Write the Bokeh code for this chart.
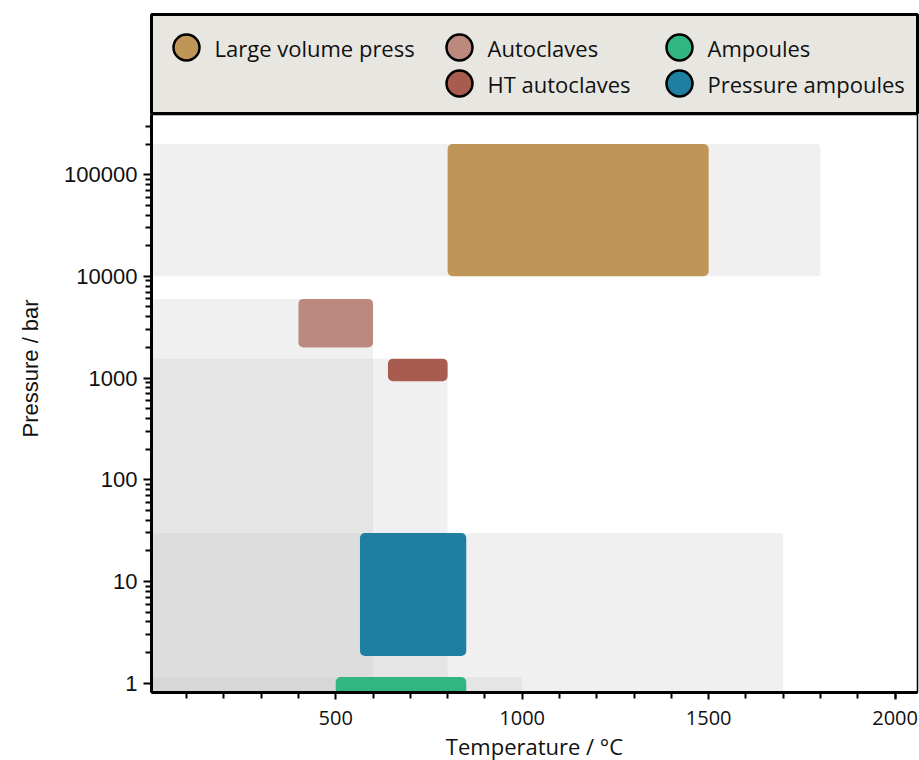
from bokeh.plotting import figure
from bokeh.models import Range1d, FixedTicker, Title, ColumnDataSource, NumeralTickFormatter
from bokeh.layouts import column
from bokeh.embed import file_html
from bokeh.resources import INLINE
from bokeh.core.properties import value

# ---------------- data ----------------
methods = ["Large volume press", "Autoclaves", "HT autoclaves", "Ampoules", "Pressure ampoules"]
colors = ["#c09558", "#bb897e", "#a85b4f", "#31b683", "#1e7fa0"]
t_min = [800, 400, 640, 500, 565]
t_max = [1500, 600, 800, 850, 850]
p_min = [10000, 2000, 930, 0.5, 1.85]
p_max = [200000, 6000, 1550, 1.15, 30]

# grey envelopes (accessible range of each method, from room temperature)
env_t_min = [0, 0, 0, 0, 0]
env_t_max = [1800, 600, 800, 1000, 1700]
env_p_min = [10000, 0.5, 0.5, 0.5, 0.5]
env_p_max = [200000, 6000, 1550, 1.15, 30]

# legend arrangement
legend_col = [0, 1, 1, 2, 2]
legend_row = [0, 0, 1, 0, 1]

x_ticks = [500, 1000, 1500, 2000]
x_minor = [100, 200, 300, 400, 600, 700, 800, 900, 1100, 1200, 1300, 1400,
           1600, 1700, 1800, 1900, 2000]
y_ticks = [1, 10, 100, 1000, 10000, 100000]
y_minor = [m * d for d in [1, 10, 100, 1000, 10000, 100000] for m in range(2, 10)]

x_title = "Temperature / °C"
y_title = "Pressure / bar"

# ---------------- layout constants ----------------
FW, FH = 766, 578
LEFT, RIGHT = 151, 2
legend_col_x = [35, 308, 528]
legend_row_y = [33, 69]
text_offset = 28

# ---------------- legend panel ----------------
leg = figure(frame_width=FW, frame_height=100, min_border_left=LEFT, min_border_right=RIGHT,
             min_border_top=14, min_border_bottom=0,
             x_range=Range1d(0, FW), y_range=Range1d(100, 0),
             x_axis_location=None, y_axis_location=None,
             toolbar_location=None, output_backend="svg")
leg.grid.visible = False
leg.background_fill_color = "#e8e6e0"
leg.border_fill_color = "white"
leg.outline_line_color = "black"
leg.outline_line_width = 3

lsrc = ColumnDataSource(dict(
    x=[legend_col_x[c] for c in legend_col],
    tx=[legend_col_x[c] + text_offset for c in legend_col],
    y=[legend_row_y[r] for r in legend_row],
    label=methods, color=colors))
leg.scatter("x", "y", source=lsrc, size=26, fill_color="color",
            line_color="black", line_width=2.5)
leg.text("tx", "y", text="label", source=lsrc, text_font=value("Open Sans"),
         text_font_size=value("22px"), text_baseline="middle", text_color="#111111")

# ---------------- main plot ----------------
p = figure(frame_width=FW, frame_height=FH, min_border_left=LEFT, min_border_right=RIGHT,
           min_border_top=0, min_border_bottom=0,
           x_range=Range1d(6, 2060), y_range=Range1d(0.81, 3.9e5), y_axis_type="log",
           toolbar_location=None, output_backend="svg")
p.grid.visible = False
p.outline_line_color = "black"
p.outline_line_width = 1.5

env = ColumnDataSource(dict(left=env_t_min, right=env_t_max, bottom=env_p_min, top=env_p_max))
p.quad(left="left", right="right", bottom="bottom", top="top", source=env,
       fill_color="#c8c8c8", fill_alpha=0.28, line_color=None, border_radius=4)

src = ColumnDataSource(dict(left=t_min, right=t_max, bottom=p_min, top=p_max, color=colors))
p.quad(left="left", right="right", bottom="bottom", top="top", source=src,
       fill_color="color", line_color=None, border_radius=5)

for ax in (p.xaxis[0], p.yaxis[0]):
    ax.axis_line_width = 3
    ax.major_tick_line_width = 2
    ax.minor_tick_line_width = 2
    ax.major_tick_in = 0
    ax.minor_tick_in = 0
    ax.formatter = NumeralTickFormatter(format="0")
    ax.major_label_text_color = "#111111"

p.xaxis.ticker = FixedTicker(ticks=x_ticks, minor_ticks=x_minor)
p.xaxis.major_tick_out = 7
p.xaxis.minor_tick_out = 6
p.xaxis.major_label_text_font = "Open Sans"
p.xaxis.major_label_text_font_size = "20px"
p.xaxis.major_label_standoff = 11
p.xaxis.axis_label = x_title
p.xaxis.axis_label_text_font = "Open Sans"
p.xaxis.axis_label_text_font_size = "22px"
p.xaxis.axis_label_text_font_style = "normal"
p.xaxis.axis_label_text_color = "#111111"
p.xaxis.axis_label_standoff = 3

p.yaxis.ticker = FixedTicker(ticks=y_ticks, minor_ticks=y_minor)
p.yaxis.major_tick_out = 8
p.yaxis.minor_tick_out = 6
p.yaxis.major_label_text_font = "Liberation Sans"
p.yaxis.major_label_text_font_size = "22px"
p.yaxis.major_label_standoff = 6

ytitle = Title(text=y_title, align="left", offset=255, standoff=33, vertical_align="top",
               text_font="Liberation Sans", text_font_size="22px",
               text_font_style="normal", text_color="#111111")
p.add_layout(ytitle, "left")

layout = column(leg, p)
open("out.html", "w").write(file_html(layout, INLINE))
